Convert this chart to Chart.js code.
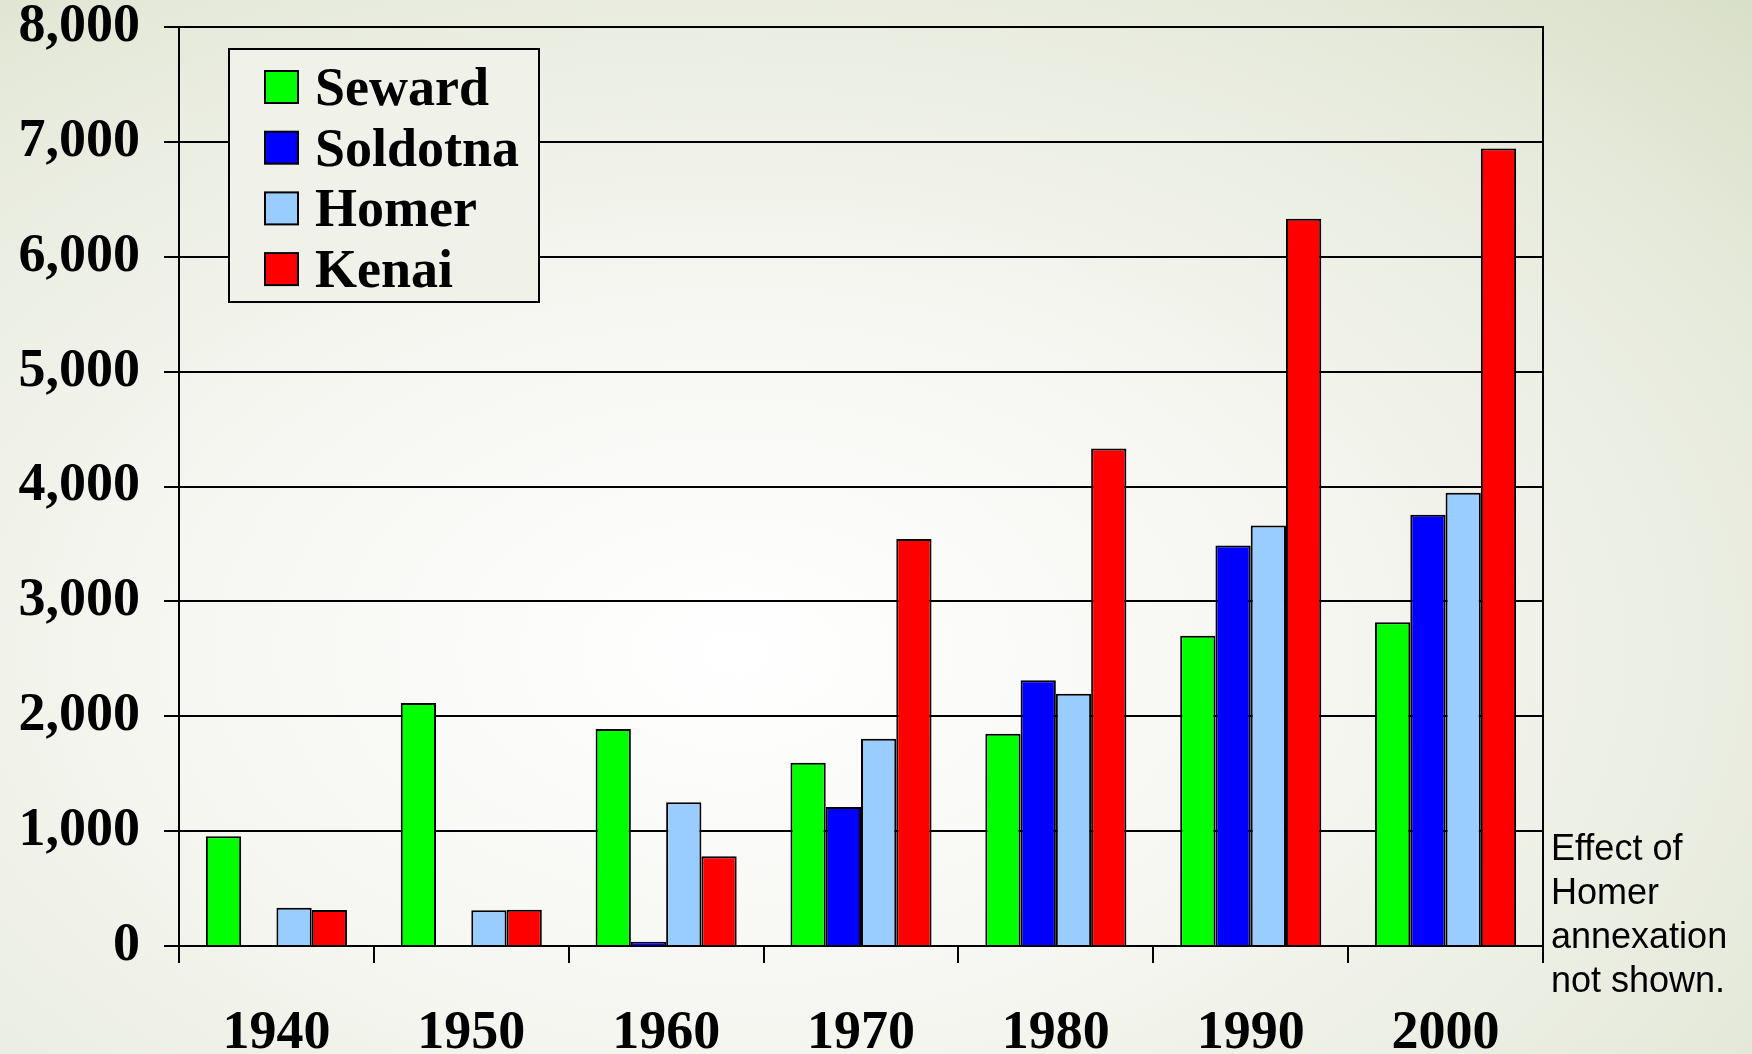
<!DOCTYPE html>
<html>
<head>
<meta charset="utf-8">
<title>Population: Seward, Soldotna, Homer, Kenai</title>
<script src="https://cdn.jsdelivr.net/npm/chart.js@4.4.1/dist/chart.umd.min.js"></script>
<style>
    html, body { margin: 0; padding: 0; }
    body {
        width: 1752px;
        height: 1054px;
        overflow: hidden;
        background: radial-gradient(ellipse 90% 95% at 42% 62%, #ffffff 0%, #f6f7f2 35%, #e6eadb 72%, #d3dbc0 100%);
    }
</style>
</head>
<body>
<canvas id="popChart" width="1752" height="1054"></canvas>
<script>
// census years
var years = ["1940", "1950", "1960", "1970", "1980", "1990", "2000"];

// population per city (null = no bar)
var seward = [955, 2115, 1888, 1595, 1847, 2700, 2818];
var soldotna = [null, null, 38, 1210, 2313, 3487, 3753];
var homer = [333, 312, 1252, 1805, 2195, 3660, 3946];
var kenai = [313, 315, 782, 3543, 4330, 6330, 6942];

var yTicks = [0, 1000, 2000, 3000, 4000, 5000, 6000, 7000, 8000];
var noteLines = ["Effect of", "Homer", "annexation", "not shown."];

//vẽ hộp chú thích bên trong vùng biểu đồ
var legendBox = {
    id: 'legendBox',
    afterDraw: function (chart) {
        var ctx = chart.ctx;
        ctx.save();
        ctx.fillStyle = '#f0f2ea';
        ctx.fillRect(229, 49, 310, 253);
        ctx.strokeStyle = '#000';
        ctx.lineWidth = 2;
        ctx.strokeRect(229, 49, 310, 253);
        ctx.font = 'bold 54px "Liberation Serif"';
        ctx.textBaseline = 'alphabetic';
        chart.data.datasets.forEach(function (ds, i) {
            var cy = 87 + i * 60.7;
            ctx.fillStyle = ds.backgroundColor;
            ctx.fillRect(265, cy - 16, 33, 32);
            ctx.lineWidth = 2;
            ctx.strokeRect(265, cy - 16, 33, 32);
            ctx.fillStyle = '#000';
            ctx.fillText(ds.label, 315, cy + 18);
        });
        ctx.restore();
    }
};

// ghi chú bên phải
var sideNote = {
    id: 'sideNote',
    afterDraw: function (chart) {
        var ctx = chart.ctx;
        ctx.save();
        ctx.fillStyle = '#000';
        ctx.font = '36px "Liberation Sans"';
        ctx.textBaseline = 'alphabetic';
        noteLines.forEach(function (t, i) {
            ctx.fillText(t, 1551, 860 + i * 44);
        });
        ctx.restore();
    }
};

var tickFont = { family: '"Liberation Serif"', size: 54, weight: 'bold', lineHeight: 1 };

var ctx = document.getElementById('popChart').getContext('2d');
var chart = new Chart(ctx, {
    type: 'bar',
    data: {
        labels: years,
        datasets: [
            { label: 'Seward', data: seward, backgroundColor: '#00ff00' },
            { label: 'Soldotna', data: soldotna, backgroundColor: '#0000ff' },
            { label: 'Homer', data: homer, backgroundColor: '#99ccff' },
            { label: 'Kenai', data: kenai, backgroundColor: '#ff0000' }
        ]
    },
    options: {
        responsive: false,
        animation: false,
        layout: { padding: { left: 0, right: 209, top: 27, bottom: 0 } },
        datasets: {
            bar: {
                borderColor: '#000',
                borderWidth: 2,
                barPercentage: 1,
                categoryPercentage: 0.724
            }
        },
        plugins: {
            legend: { display: false },
            tooltip: { enabled: false }
        },
        scales: {
            x: {
                offset: true,
                afterFit: function (axis) { axis.height = 108; },
                grid: { offset: true, drawOnChartArea: false, tickLength: 17, color: '#000', lineWidth: 2 },
                border: { color: '#000', width: 2 },
                ticks: { font: tickFont, color: '#000', padding: 44, maxRotation: 0 }
            },
            y: {
                min: 0,
                max: 8000,
                afterFit: function (axis) {
                    axis.width = 179;
                    axis.paddingTop = 0;
                    axis.paddingBottom = 0;
                },
                afterBuildTicks: function (axis) {
                    axis.ticks = yTicks.map(function (v) { return { value: v }; });
                },
                grid: { color: '#000', lineWidth: 2, tickLength: 15 },
                border: { color: '#000', width: 2 },
                ticks: {
                    font: tickFont,
                    color: '#000',
                    padding: 24,
                    callback: function (v) { return Number(v).toLocaleString('en-US'); }
                }
            },
            y2: {
                position: 'right',
                display: true,
                min: 0,
                max: 8000,
                afterFit: function (axis) {
                    axis.paddingTop = 0;
                    axis.paddingBottom = 0;
                },
                grid: { drawOnChartArea: false, drawTicks: false },
                border: { color: '#000', width: 2 },
                ticks: { display: false }
            }
        }
    },
    plugins: [legendBox, sideNote]
});
</script>
</body>
</html>
